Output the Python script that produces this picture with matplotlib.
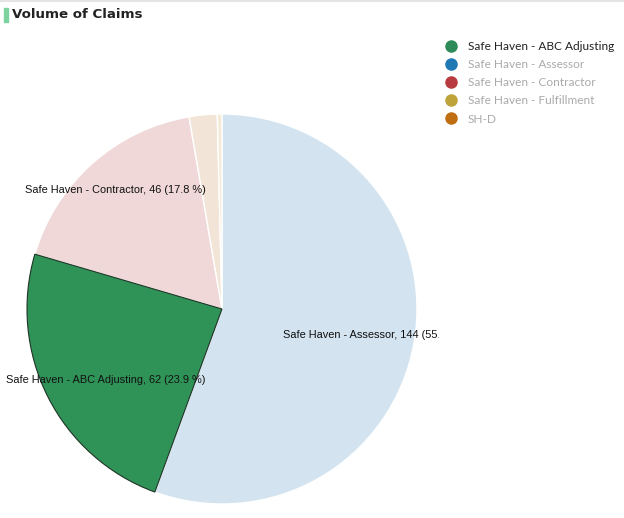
import numpy as np
import matplotlib
matplotlib.use('Agg')
import matplotlib.pyplot as plt
from matplotlib.lines import Line2D
from matplotlib.transforms import Bbox, TransformedBbox

names = ['Safe Haven - Assessor', 'Safe Haven - ABC Adjusting', 'Safe Haven - Contractor',
         'Safe Haven - Fulfillment', 'SH-D']
values = [144, 62, 46, 6, 1]
slice_colors = ['#d3e4f0', '#2f9358', '#f0d8d8', '#f2e4d6', '#f4ead8']

legend_names = ['Safe Haven - ABC Adjusting', 'Safe Haven - Assessor', 'Safe Haven - Contractor',
                'Safe Haven - Fulfillment', 'SH-D']
legend_colors = ['#2e8b57', '#1f77b4', '#b83b3f', '#bea33a', '#bf6f12']
legend_text_colors = ['#222222', '#aaaaaa', '#aaaaaa', '#aaaaaa', '#aaaaaa']

# label placement (axes data units, pie radius = 1), None = no label
label_pos = [(0.313, -0.133, 'left'), (-0.595, -0.364, 'center'), (-0.549, 0.610, 'center'),
             None, None]

W, H = 624, 518
fig = plt.figure(figsize=(W / 100, H / 100), dpi=100)
fig.patch.set_facecolor('white')

# top border line + title with green accent
fig.add_artist(Line2D([0, 1], [1 - 0.5 / H, 1 - 0.5 / H], color='#e4e4e4', lw=1.5))
fig.add_artist(plt.Rectangle((4 / W, 1 - 22 / H), 3.5 / W, 14 / H, color='#7dd3a0',
                             transform=fig.transFigure))
fig.text(12 / W, 1 - 15 / H, 'Volume of Claims', fontsize=9.6, fontweight='bold',
         color='#222222', va='center', ha='left', family='DejaVu Sans')

# pie
cx, cy, r = 222, H - 309, 195
ax = fig.add_axes([(cx - r) / W, (cy - r) / H, 2 * r / W, 2 * r / H])
wedges, _ = ax.pie(values, colors=slice_colors, startangle=90, counterclock=False,
                   radius=1, wedgeprops=dict(edgecolor='white', linewidth=1))
wedges[1].set_edgecolor('#1f3326')
wedges[1].set_linewidth(0.8)
wedges[1].set_zorder(3)
ax.set_xlim(-1, 1)
ax.set_ylim(-1, 1)
ax.set_aspect('equal')
ax.axis('off')

total = sum(values)
clip = TransformedBbox(Bbox([[0, 0], [439 / W, 1]]), fig.transFigure)
for name, v, pos in zip(names, values, label_pos):
    if pos is None:
        continue
    x, y, ha = pos
    t = ax.text(x, y, f'{name}, {v} ({100 * v / total:.1f} %)',
                ha=ha, va='center', fontsize=7.9, family='Liberation Sans',
                color='#111111', zorder=5)
    t.set_clip_on(True)
    t.set_clip_box(clip)

# legend
handles = [Line2D([], [], marker='o', ls='', markersize=8, markerfacecolor=c,
                  markeredgecolor=c) for c in legend_colors]
leg = fig.legend(handles, legend_names, loc='upper left', bbox_to_anchor=(445 / W, 1 - 41 / H),
                 frameon=False, handletextpad=0.9, labelspacing=0.6,
                 handlelength=1.0, borderaxespad=0, borderpad=0,
                 prop={'family': 'Lato', 'size': 8.6})
for txt, c in zip(leg.get_texts(), legend_text_colors):
    txt.set_color(c)

fig.savefig('out.png', dpi=100)
